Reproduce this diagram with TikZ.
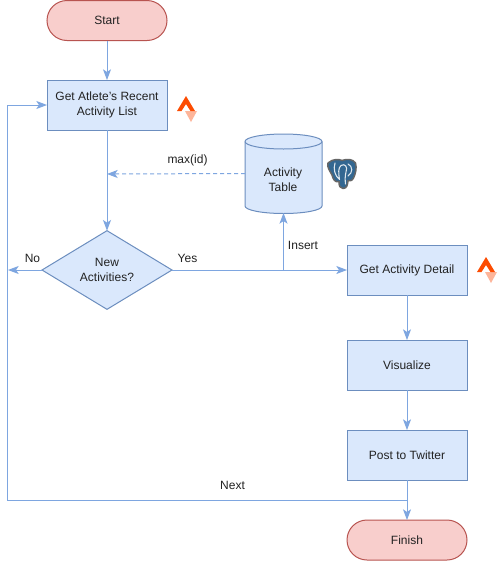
\documentclass[tikz,border=0pt]{standalone}
\usepackage{fontspec}
\setmainfont{Liberation Sans}
\usetikzlibrary{arrows.meta,shapes.geometric}
\definecolor{boxline}{HTML}{6C8EBF}
\definecolor{boxfill}{HTML}{DAE8FC}
\definecolor{redline}{HTML}{B85450}
\definecolor{redfill}{HTML}{F8CECC}
\definecolor{conn}{HTML}{7EA6E0}
\definecolor{ink}{HTML}{222222}
\definecolor{stravadark}{HTML}{FC4C02}
\definecolor{stravalight}{HTML}{FDB59A}
\definecolor{pgblue}{HTML}{336791}
\tikzset{
  x=0.75pt,y=-0.75pt,
  every node/.style={font=\fontsize{9}{11.25}\selectfont,text=ink,align=center,inner sep=0pt,outer sep=0pt},
  procbox/.style={draw=boxline,fill=boxfill,line width=0.75pt,minimum width=90pt,minimum height=37.5pt},
  termbox/.style={draw=redline,fill=redfill,line width=0.75pt,minimum width=90pt,minimum height=30pt,rounded corners=15pt},
  decision/.style={diamond,aspect=1.65,draw=boxline,fill=boxfill,line width=0.75pt,minimum width=97.5pt,minimum height=59pt},
  cylzone/.style={minimum width=57.75pt,minimum height=59.25pt},
  link/.style={draw=conn,line width=0.75pt},
  flow/.style={link,-{Stealth[length=8pt,width=6pt,inset=2pt]}},
  dashflow/.style={flow,dash pattern=on 3pt off 2.25pt},
  label/.style={font=\fontsize{9}{11}\selectfont},
}
\newcommand{\stravaicon}[2]{%
  \begin{scope}[shift={(#1,#2)}]
    \fill[stravalight] (8,15) -- (20,15) -- (14,26) -- cycle;
    \fill[stravadark] (0,15) -- (9,0) -- (18,15) -- (13.5,15) -- (9,8) -- (4.5,15) -- cycle;
  \end{scope}}
\begin{document}
\begin{tikzpicture}
\useasboundingbox (0,0) rectangle (503,561);
\fill[white] (0,0) rectangle (503,561);
% database drum
\filldraw[draw=boxline,fill=boxfill,line width=0.75pt]
  (245,141.5) -- (245,206) arc[start angle=180,end angle=0,x radius=38.5,y radius=7.5]
  -- (322,141.5) arc[start angle=0,end angle=-180,x radius=38.5,y radius=7.5] -- cycle;
\draw[boxline,line width=0.75pt] (245,141.5) arc[start angle=180,end angle=0,x radius=38.5,y radius=7.5];
% nodes
\node[termbox] (start) at (107,20.5) {Start};
\node[procbox] (recent) at (107,105) {Get Atlete's Recent\\Activity List};
\node[decision] (new) at (107,270) {New\\Activities?};
\node[cylzone] (table) at (283.5,173.5) {};
\node (tabletext) at (283,180) {Activity\\Table};
\node[procbox] (detail) at (407,270) {Get Activity Detail};
\node[procbox] (vis) at (407,365) {Visualize};
\node[procbox] (post) at (407,455) {Post to Twitter};
\node[termbox] (finish) at (407,540) {Finish};
\coordinate (noend) at (8,270);
\coordinate (maxend) at (107,174);
\coordinate (ins) at (283.5,270);
\coordinate (nx) at (407,500.5);
\coordinate (corner) at (7.5,500.5);
% connectors
\draw[flow] (start) -- (recent);
\draw[flow] (recent) -- (new);
\draw[dashflow] (table.west) -- (maxend);
\draw[flow] (new) -- (noend);
\draw[flow] (new) -- (detail);
\draw[flow] (ins) -- (table.south);
\draw[flow] (detail) -- (vis);
\draw[flow] (vis) -- (post);
\draw[flow] (post) -- (finish);
\draw[flow] (nx) -- (corner) |- (recent.west);
% labels
\node[label] (lmax) at (187.5,160) {max(id)};
\node[label] (lno) at (32.5,258) {No};
\node[label] (lyes) at (187.5,258) {Yes};
\node[label] (lins) at (303,245) {Insert};
\node[label] (lnext) at (232.5,485) {Next};
% brand marks
\stravaicon{177}{96}
\stravaicon{477}{257}
% elephant mark
\begin{scope}[shift={(327,159)}]
  \filldraw[draw=black!60,fill=pgblue,line width=1.1pt,line join=round]
    (1,4) .. controls (6,-0.5) and (12,0) .. (15,1.5)
    .. controls (20,-0.5) and (26,0) .. (28.5,4)
    .. controls (30,9) and (28.5,15) .. (26.5,19)
    .. controls (25,22) and (23,22) .. (21,21.5)
    .. controls (20.5,26) and (20,29.5) .. (16,29.5)
    .. controls (13,29.5) and (12,27) .. (12,22.5)
    .. controls (8,24) and (6,20) .. (5,16)
    .. controls (3,12) and (-0.5,8) .. (1,4) -- cycle;
  \draw[white!85!pgblue,line width=0.8pt,line cap=round]
    (8,4) .. controls (6,10) and (8,17) .. (12.5,20.5)
    (12.5,20.5) .. controls (11.5,14) and (11,9) .. (14,6.5)
    .. controls (18,4) and (21,8) .. (19,13)
    .. controls (18,17) and (18,21) .. (18.5,25)
    (21,5) .. controls (26,7) and (26,14) .. (21,17);
\end{scope}
\end{tikzpicture}
\end{document}
